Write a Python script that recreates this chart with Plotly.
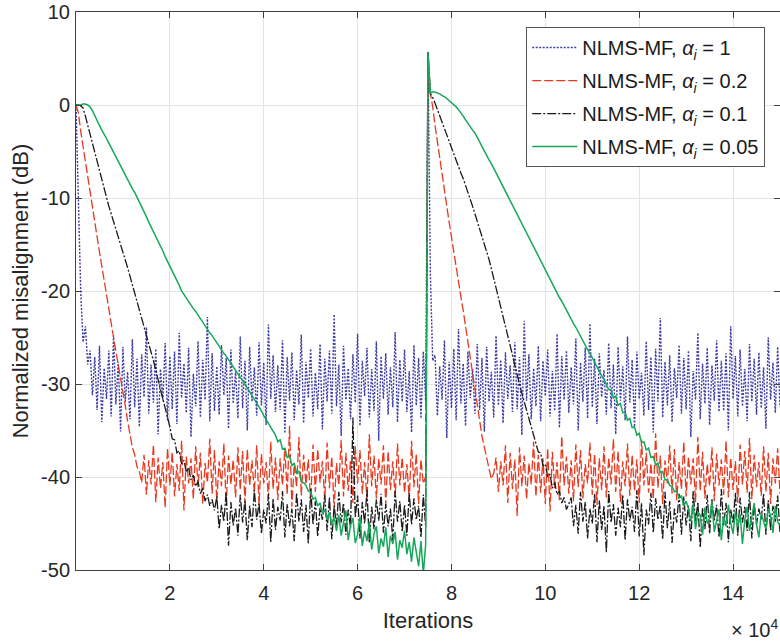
import plotly.graph_objects as go

# ---------------- data ----------------
STEP = 500            # iterations between stored samples
SEG2_START = 75000    # the echo path changes here

X_TICKS = [20000, 40000, 60000, 80000, 100000, 120000, 140000]
X_TICK_TEXT = ["2", "4", "6", "8", "10", "12", "14"]
Y_TICKS = [10, 0, -10, -20, -30, -40, -50]
Y_TICK_TEXT = ["10", "0", "-10", "-20", "-30", "-40", "-50"]

LABELS = [
    "NLMS-MF, <i>α</i><sub><i>i</i></sub> = 1",
    "NLMS-MF, <i>α</i><sub><i>i</i></sub> = 0.2",
    "NLMS-MF, <i>α</i><sub><i>i</i></sub> = 0.1",
    "NLMS-MF, <i>α</i><sub><i>i</i></sub> = 0.05",
]

# alpha = 1 (blue dotted): before / after the echo-path change
BLUE_1 = [0, -11, -20, -25.5, -23.8, -27.9, -26.4, -31.2,
    -27.1, -32.8, -25.9, -34.1, -28.3, -31.6, -26.4, -33.5, -24.8, -32.2, -27.6, -35.1, -26.0, -31.9, -28.7, -33.8, -25.2, -32.5, -27.3, -34.6,
    -26.8, -31.4, -23.9, -33.2, -27.9, -32.0, -26.2, -35.4, -28.4, -31.8, -25.6, -33.9, -27.0, -32.7, -26.5, -34.3, -24.5, -31.5, -27.8, -33.1,
    -26.1, -35.7, -28.9, -32.4, -25.4, -33.6, -27.4, -31.7, -22.8, -34.0, -26.7, -32.9, -28.1, -33.3, -25.8, -31.2, -27.2, -34.8, -26.3, -32.1,
    -28.6, -33.7, -24.9, -32.6, -27.5, -35.0, -26.0, -31.9, -28.2, -33.4, -25.5, -32.3, -27.7, -34.4, -23.6, -31.6, -26.9, -33.0, -28.0, -32.8,
    -25.3, -35.3, -27.1, -31.8, -26.6, -33.9, -28.5, -32.2, -24.7, -34.2, -27.6, -31.5, -26.2, -33.5, -28.8, -32.7, -25.7, -34.9, -27.3, -31.9,
    -26.4, -33.2, -22.5, -32.4, -27.9, -35.6, -25.9, -31.7, -28.3, -33.8, -26.8, -32.0, -24.6, -34.5, -27.5, -31.3, -26.1, -33.6, -28.4, -32.9,
    -25.4, -36.1, -27.0, -31.6, -26.7, -33.3, -28.2, -32.5, -24.4, -34.1, -27.4, -31.9, -26.3, -33.0, -28.6, -35.2, -25.8, -32.3, -27.2, -33.7,
    -26.5, -31.8]
BLUE_2 = [5.7, -18, -27.5,
    -26.9, -33.4, -28.1, -31.7, -25.3, -35.8, -27.6, -32.6, -26.2, -33.9, -24.1, -32.1, -27.8, -34.5, -26.5, -31.5, -28.4, -33.2, -25.7, -32.8,
    -27.2, -35.1, -26.0, -31.9, -28.7, -33.6, -24.8, -32.3, -27.4, -34.2, -26.6, -31.6, -28.0, -33.0, -25.5, -32.7, -27.1, -35.5, -23.2, -31.8,
    -26.8, -33.8, -28.3, -32.4, -25.9, -34.0, -27.5, -31.3, -26.3, -33.5, -28.6, -32.9, -24.6, -34.7, -27.0, -31.7, -26.4, -33.1, -28.2, -32.2,
    -25.1, -35.0, -27.7, -31.9, -26.1, -33.7, -23.5, -32.5, -27.3, -34.3, -26.7, -31.4, -28.5, -33.3, -25.6, -32.6, -27.9, -35.4, -26.0, -31.8,
    -28.1, -33.9, -24.9, -32.0, -27.4, -34.6, -26.5, -31.6, -28.8, -33.4, -25.4, -32.8, -27.1, -35.2, -26.2, -31.9, -22.9, -33.6, -27.6, -32.3,
    -26.9, -34.1, -28.3, -31.5, -25.8, -33.2, -27.2, -32.7, -26.4, -35.7, -28.6, -31.7, -24.5, -33.8, -27.8, -32.1, -26.1, -34.4, -28.0, -31.8,
    -25.3, -33.0, -27.5, -32.9, -26.7, -35.0, -23.8, -31.6, -27.0, -33.5, -26.3, -32.4, -28.4, -34.0, -25.7, -31.9, -27.3, -33.3, -26.6, -32.6,
    -28.2, -34.8, -25.0, -31.7, -27.7, -33.1, -26.0, -32.5]

# alpha = 0.2 (red dashed)
RED_1 = [0, -0.8, -2.8, -4.5, -6.2, -7.8, -9.4, -11.0, -12.6, -14.2, -15.8, -17.4, -19.0, -20.5, -22.0, -23.5,
    -25.0, -26.5, -27.9, -29.2, -30.5, -32.3, -34.0, -35.4, -36.8, -37.6, -38.9, -39.4, -40.6,
    -37.6, -41.9, -38.2, -40.8, -36.5, -42.7, -37.9, -41.2, -38.4, -43.3, -36.9, -40.9, -37.3, -42.1, -38.6, -41.5, -36.1, -43.6, -37.8, -40.7,
    -38.0, -42.4, -36.7, -41.1, -37.4, -42.9, -38.5, -40.6, -35.9, -41.8, -37.1, -42.6, -38.3, -41.0, -36.4, -43.1, -37.7, -40.8, -38.1, -42.2,
    -36.8, -41.4, -37.2, -42.8, -37.0, -40.9, -38.2, -41.7, -36.6, -43.0, -37.5, -40.7, -38.4, -42.3, -36.2, -41.3, -37.9, -42.5, -38.0, -40.9,
    -36.9, -41.9, -34.5, -43.2, -38.6, -41.1, -35.7, -42.0, -37.6, -40.8, -38.1, -42.7, -36.5, -41.6, -37.0, -40.6, -38.3, -42.4, -36.3, -41.2,
    -37.8, -43.4, -38.5, -40.9, -36.0, -42.1, -37.4, -41.5, -38.2, -42.8, -36.7, -40.7, -37.1, -41.8, -38.4, -42.6, -35.4, -41.0, -37.7, -42.3,
    -38.0, -40.8, -36.6, -43.0, -37.2, -41.4, -38.3, -42.2, -36.4, -40.9, -37.9, -41.7, -38.6, -42.5, -36.1, -41.1, -37.5, -42.9, -38.1, -40.7,
    -39.9]
RED_2 = [5.7, 1.3, -0.2, -2.2, -4.0, -5.8, -7.5, -9.2, -10.9, -12.6, -14.2, -15.9, -17.6, -19.3, -20.6, -22.1,
    -23.8, -25.6, -27.3, -29.0, -30.5, -32.4, -34.0, -35.6, -36.8, -37.9, -38.8, -40.2, -39.6,
    -37.9, -41.6, -38.3, -40.9, -36.6, -42.8, -37.4, -41.3, -38.1, -44.2, -36.8, -41.0, -37.7, -42.4, -38.5, -40.8, -36.2, -42.1, -37.6, -41.7,
    -38.0, -42.9, -36.9, -43.7, -37.3, -41.2, -38.4, -42.5, -35.6, -40.9, -37.8, -41.8, -38.2, -42.6, -36.5, -41.1, -37.1, -42.3, -38.6, -40.7,
    -36.3, -41.9, -37.5, -43.0, -38.0, -41.4, -36.7, -42.2, -37.9, -40.8, -35.9, -41.6, -37.2, -42.7, -38.3, -41.0, -36.4, -42.0, -37.6, -41.5,
    -38.1, -42.8, -36.0, -40.9, -37.4, -41.7, -38.5, -42.4, -35.3, -41.2, -37.7, -42.9, -38.2, -40.7, -36.6, -41.8, -37.0, -42.5, -38.4, -41.3,
    -36.2, -42.1, -37.8, -40.8, -38.0, -42.7, -35.7, -41.5, -37.3, -42.3, -38.6, -41.0, -36.8, -42.6, -37.5, -40.9, -38.1, -41.9, -36.1, -42.2,
    -37.9, -41.4, -38.3, -42.8, -36.5, -40.8, -37.2, -41.7, -35.8, -42.4, -37.6, -41.1, -38.4, -42.0, -36.7, -41.6, -37.4, -42.9, -38.0, -40.7,
    -36.9, -41.8]

# alpha = 0.1 (black dash-dot)
BLACK_1 = [0, 0, -0.1, -0.3, -1.2, -2.2, -3.2, -4.2, -5.2, -6.2, -7.2, -8.2, -9.2, -10.1, -10.9, -11.7,
    -12.5, -13.4, -14.2, -15.0, -15.9, -16.7, -17.5, -18.4, -19.3, -20.1, -21.0, -21.9, -22.8, -23.7, -24.6, -25.5,
    -26.5, -27.5, -28.5, -29.7, -30.6, -31.6, -32.6, -33.5,
    -34.6, -35.9, -36.0, -37.4, -37.2, -38.6, -38.2, -39.5, -39.0, -40.3, -39.8, -41.0, -40.5, -41.8, -41.2, -42.6, -41.9, -43.1, -42.4, -43.6,
    -42.1, -45.6, -43.0, -44.8, -41.6, -47.4, -42.7, -45.2, -43.3, -46.3, -41.9, -44.9, -42.5, -46.8, -43.1, -45.4, -41.4, -44.6, -42.8, -46.1,
    -43.5, -45.0, -41.8, -47.0, -42.3, -45.7, -43.2, -44.7, -41.5, -46.5, -42.9, -45.3, -43.4, -46.9, -41.7, -44.8, -42.4, -45.9, -43.0, -47.2,
    -41.3, -45.1, -42.6, -46.4, -43.3, -44.6, -41.9, -45.8, -42.2, -46.7, -43.1, -45.2, -41.6, -44.9, -42.8, -46.2, -43.5, -45.5, -33.6, -44.3,
    -42.0, -46.6, -42.7, -45.0, -41.4, -47.1, -43.2, -45.6, -42.4, -44.7, -41.8, -46.0, -42.9, -45.3, -43.4, -46.8, -41.5, -44.8, -42.6, -45.9,
    -43.0, -46.3, -41.7, -45.1, -42.3, -44.6, -43.1, -46.5, -41.9, -45.4]
BLACK_2 = [5.7, 1.2, 0.8, 0.2, -0.5, -1.2, -1.9, -2.6, -3.3, -4.0, -4.7, -5.3, -6.0, -6.6, -7.3, -7.9,
    -8.6, -9.3, -10.1, -10.9, -11.7, -12.5, -13.4, -14.2, -15.0, -15.9, -16.6, -17.6, -18.6, -19.6, -20.6, -21.6,
    -22.6, -23.7, -24.8, -25.8, -26.9, -28.0, -29.1, -30.1, -31.0, -31.9, -32.8, -33.7, -34.6, -35.4,
    -36.2, -37.3, -37.4, -38.8, -38.6, -40.0, -39.7, -41.2, -40.6, -41.9, -41.5, -42.8, -42.2, -43.5, -42.9,
    -42.2, -45.3, -43.0, -46.1, -41.6, -44.8, -42.7, -46.6, -43.4, -45.0, -41.8, -47.0, -42.5, -45.7, -43.1, -48.1, -41.5, -44.9, -42.9, -46.3,
    -43.3, -45.4, -41.9, -46.8, -42.4, -44.7, -43.2, -45.9, -41.4, -46.4, -42.8, -48.4, -43.5, -45.1, -41.7, -46.0, -42.3, -44.6, -43.0, -46.7,
    -41.6, -45.5, -42.6, -47.1, -43.4, -44.9, -41.8, -46.2, -42.1, -45.2, -43.1, -46.9, -41.5, -44.8, -42.7, -47.6, -43.3, -45.6, -41.9, -46.1,
    -42.4, -44.7, -43.0, -46.5, -41.3, -45.3, -42.8, -47.0, -43.5, -45.0, -41.7, -46.3, -42.2, -44.9, -43.2, -45.8, -41.6, -46.6, -42.9, -45.1,
    -43.4, -44.6, -41.8, -46.2, -42.5, -45.7, -43.1, -44.8, -42.0, -46.0]

# alpha = 0.05 (green solid)
GREEN_1 = [0, 0, 0, 0.1, 0.1, 0, -0.2, -0.6, -1.2,
    -1.7, -2.2, -2.7, -3.1, -3.6, -4.1, -4.6, -5.1, -5.6, -6.0, -6.5, -7.0, -7.5, -8.0, -8.5, -9.0, -9.4, -9.9,
    -10.4, -11.0, -11.5, -12.0, -12.6, -13.1, -13.6, -14.1, -14.7, -15.2, -15.7, -16.3, -16.8, -17.3, -17.8, -18.4, -18.9, -19.4, -20.0,
    -20.4, -20.7, -21.1, -21.5, -21.9, -22.2, -22.6, -23.0, -23.3, -23.7, -24.1, -24.5, -24.8, -25.2, -25.6, -25.9, -26.3, -26.7,
    -27.0, -27.4, -27.8, -28.2, -28.5, -28.9, -29.3, -29.6, -30.0,
    -30.4, -30.8, -31.3, -31.7, -32.1, -32.5, -32.9, -33.4, -33.8, -34.2, -34.6, -35.0, -35.5, -36.2, -36.0, -37.0, -36.9, -37.9,
    -37.7, -38.8, -38.5, -39.6, -39.4, -40.5,
    -40.6, -40.9, -41.5, -41.6, -42.4, -42.2, -43.1, -42.8, -43.9, -43.5, -44.6, -43.8, -45.2, -44.3,
    -45.8, -44.1, -46.3, -44.9, -43.6, -46.8, -45.2, -44.4, -47.1, -46.2, -44.3, -47.4, -45.8, -46.9, -44.8, -47.8, -46.1, -45.3, -48.2, -46.6,
    -47.5, -45.4, -48.6, -46.3, -47.2, -45.9, -48.9, -46.8, -47.6, -45.8, -48.3, -47.0, -49.1, -46.5, -48.0, -49.6, -46.9, -50.4, -47.3]
GREEN_2 = [5.7, 1.3, 1.4, 1.4, 1.3, 1.2, 1.0, 0.9, 0.7, 0.5, 0.3, 0.1, -0.2, -0.5, -0.8, -1.2, -1.6, -2.0, -2.4, -2.7,
    -3.0, -3.5, -4.0, -4.4, -4.9, -5.4, -5.9, -6.3, -6.8, -7.3, -7.8, -8.2, -8.7, -9.2, -9.7, -10.2,
    -10.7, -11.2, -11.7, -12.2, -12.7, -13.2, -13.7, -14.2, -14.7, -15.2, -15.7, -16.2, -16.7, -17.2, -17.7, -18.2,
    -18.7, -19.2, -19.7, -20.2, -20.7, -21.1, -21.6, -22.1, -22.5, -23.0, -23.5, -23.9, -24.4, -24.9, -25.3, -25.8,
    -26.3, -26.7, -27.2, -27.7, -28.1, -28.6, -29.1, -29.5,
    -30.0, -30.6, -30.6, -31.5, -31.3, -32.3, -32.1, -33.1, -33.0, -33.9, -33.7, -34.7, -34.6, -35.5, -35.3, -36.3,
    -36.2, -37.1, -36.9, -37.9, -37.8, -38.7, -38.5, -39.5, -39.4, -40.3,
    -40.3, -40.9, -41.0, -41.6, -41.5, -42.3, -42.0, -43.1, -42.6,
    -43.4, -44.8, -42.9, -45.6, -43.8, -44.1, -46.2, -43.3, -45.0, -44.4, -42.6, -45.9, -44.7, -43.5, -46.8, -44.2,
    -45.3, -43.0, -44.9, -46.1, -43.7, -45.4, -44.0, -47.2, -44.6, -43.2, -45.8, -44.3, -42.8, -45.1, -46.5, -43.9,
    -44.7, -45.6, -43.4, -44.2, -46.0, -43.1, -44.8, -45.2]

SERIES = [
    (BLUE_1, BLUE_2, "#3c3ca4", "2px,1.5px", 1.4),
    (RED_1, RED_2, "#e8391f", "9px,3px", 1.3),
    (BLACK_1, BLACK_2, "#1a1a1a", "9px,2px,2px,2px", 1.3),
    (GREEN_1, GREEN_2, "#16a75a", "solid", 1.5),
]


def iterations(seg, start):
    return [start + i * STEP for i in range(len(seg))]


fig = go.Figure()
for (seg1, seg2, color, dash, width), label in zip(SERIES, LABELS):
    fig.add_trace(go.Scatter(
        x=iterations(seg1, 0) + iterations(seg2, SEG2_START),
        y=seg1 + seg2,
        mode="lines",
        name=label,
        legendgroup=label,
        line=dict(color=color, dash=dash, width=width),
    ))

FONT = "Liberation Sans, Arial, Helvetica, sans-serif"
AXIS_COLOR = "#404040"

fig.update_layout(
    width=780, height=644,
    margin=dict(l=76, r=0, t=12, b=74),
    paper_bgcolor="white", plot_bgcolor="white",
    font=dict(family=FONT, size=20, color="#262626"),
    showlegend=True,
    legend=dict(
        x=0.979, y=0.973, xanchor="right", yanchor="top",
        bgcolor="white", bordercolor="#555555", borderwidth=1,
        font=dict(family=FONT, size=20, color="#1a1a1a"),
        tracegroupgap=4, itemwidth=45,
    ),
)
fig.update_xaxes(
    range=[0, 150000],
    tickvals=X_TICKS, ticktext=X_TICK_TEXT,
    showgrid=True, gridcolor="#e3e3e3", gridwidth=1,
    zeroline=False,
    showline=True, linecolor=AXIS_COLOR, linewidth=1, mirror="allticks",
    ticks="inside", ticklen=6, tickcolor=AXIS_COLOR,
    ticklabelstandoff=5,
    title=dict(text="Iterations", font=dict(size=22), standoff=9),
)
fig.update_yaxes(
    range=[-50, 10],
    tickvals=Y_TICKS, ticktext=Y_TICK_TEXT,
    showgrid=True, gridcolor="#e3e3e3", gridwidth=1,
    zeroline=False,
    showline=True, linecolor=AXIS_COLOR, linewidth=1, mirror="allticks",
    ticks="inside", ticklen=6, tickcolor=AXIS_COLOR,
    ticklabelstandoff=1,
    title=dict(text="Normalized misalignment (dB)", font=dict(size=22), standoff=6),
)
fig.add_annotation(
    text="× 10<sup>4</sup>", xref="paper", yref="paper",
    x=1.0, y=-0.105, xanchor="right", yanchor="middle",
    showarrow=False, font=dict(family=FONT, size=20, color="#262626"),
)

# remove the page's default 8 px body margin so the 780x644 figure fills the window
fig.write_html(
    "out.html",
    config={"displayModeBar": False},
    post_script="document.body.style.margin='0';document.body.style.overflow='hidden';",
)
